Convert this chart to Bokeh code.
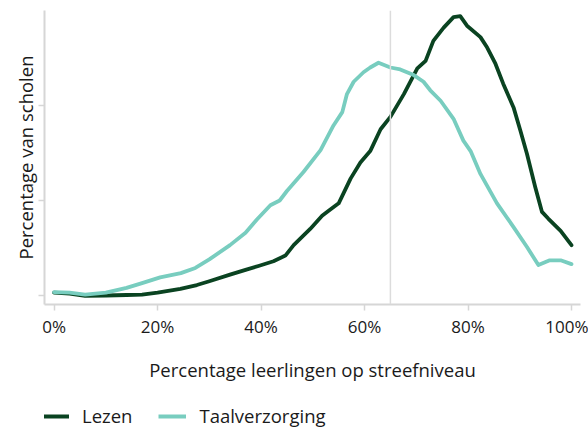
from bokeh.plotting import figure
from bokeh.models import Span, Legend, LegendItem, FixedTicker, Range1d
from bokeh.layouts import column
from bokeh.embed import file_html
from bokeh.resources import INLINE

# ---- data ----
lezen_x = [0, 3, 6, 10, 14, 17, 20, 24.4, 27.6, 30, 34, 37, 39.5, 42.4, 44.7, 46.3,
           49.5, 51.8, 53, 55, 57.3, 59.2, 61.1, 63.1, 65, 67.6, 70.2, 71.8, 73.3,
           75.3, 77.2, 78.5, 79.8, 82.4, 83.7, 85.3, 86.8, 88.8, 90.1, 91.4, 93,
           94.3, 95.5, 97.9, 100]
lezen_y = [0.03, 0.02, -0.005, 0.0, 0.005, 0.01, 0.03, 0.07, 0.11, 0.15, 0.22, 0.27,
           0.31, 0.36, 0.42, 0.53, 0.70, 0.84, 0.89, 0.97, 1.23, 1.40, 1.52, 1.75,
           1.88, 2.12, 2.39, 2.47, 2.68, 2.82, 2.93, 2.94, 2.84, 2.72, 2.61, 2.44,
           2.23, 1.98, 1.74, 1.49, 1.14, 0.88, 0.81, 0.68, 0.53]

taal_x = [0, 3, 6, 10, 14, 17, 20.5, 24.5, 27.3, 30, 34, 37, 39.2, 41.8, 43.6, 45,
          48.2, 51.5, 54, 55.7, 56.6, 57.9, 59.8, 61.1, 62.7, 65, 66.9, 69.5, 71.4,
          72.7, 74.7, 77.2, 79.1, 80.5, 82.4, 85.6, 88.8, 91.4, 93.6, 95.8, 97.9, 100]
taal_y = [0.035, 0.03, 0.01, 0.03, 0.08, 0.13, 0.19, 0.235, 0.29, 0.38, 0.53, 0.66,
          0.80, 0.95, 1.0, 1.1, 1.30, 1.53, 1.79, 1.93, 2.12, 2.25, 2.35, 2.40, 2.45,
          2.40, 2.38, 2.32, 2.25, 2.16, 2.05, 1.86, 1.63, 1.52, 1.28, 0.97, 0.72,
          0.51, 0.32, 0.37, 0.37, 0.33]

x_ticks = [0, 20, 40, 60, 80, 100]
x_tick_labels = ["0%", "20%", "40%", "60%", "80%", "100%"]
y_ticks = [0, 1, 2]
ref_line = 65

series_names = ["Lezen", "Taalverzorging"]
colors = ["#0a4321", "#78cdbf"]

FONT = "Open Sans"
TEXT = "#1a1a1a"
AXIS = "#d6d6d6"

p = figure(width=588, height=386, output_backend="svg", toolbar_location=None,
           x_range=Range1d(-1.855, 101.74), y_range=Range1d(-0.095, 3.0),
           min_border_left=44, min_border_right=8, min_border_top=10,
           min_border_bottom=82)
p.outline_line_color = None
p.grid.visible = False
p.background_fill_color = "white"
p.border_fill_color = "white"

p.add_layout(Span(location=ref_line, dimension="height", line_color="#dcdcdc",
                  line_width=1.5))

r1 = p.line(lezen_x, lezen_y, line_color=colors[0], line_width=3.8,
            line_join="round", line_cap="round")
r2 = p.line(taal_x, taal_y, line_color=colors[1], line_width=3.8,
            line_join="round", line_cap="round")

# x axis
xa = p.xaxis[0]
xa.ticker = FixedTicker(ticks=x_ticks)
xa.major_label_overrides = {t: l for t, l in zip(x_ticks, x_tick_labels)}
xa.axis_line_color = AXIS
xa.axis_line_width = 2
xa.major_tick_line_color = AXIS
xa.major_tick_line_width = 1.5
xa.major_tick_out = 6
xa.major_tick_in = 0
xa.minor_tick_line_color = None
xa.major_label_text_font = FONT
xa.major_label_text_font_size = "17px"
xa.major_label_text_color = TEXT
xa.major_label_standoff = 4
xa.axis_label = "Percentage leerlingen op streefniveau"
xa.axis_label_text_font = FONT
xa.axis_label_text_font_size = "18.5px"
xa.axis_label_text_font_style = "normal"
xa.axis_label_text_color = TEXT
xa.axis_label_standoff = 16

# y axis
ya = p.yaxis[0]
ya.ticker = FixedTicker(ticks=y_ticks)
ya.major_label_overrides = {t: "" for t in y_ticks}
ya.major_label_standoff = 0
ya.axis_line_color = AXIS
ya.axis_line_width = 2
ya.major_tick_line_color = AXIS
ya.major_tick_line_width = 1.5
ya.major_tick_out = 6
ya.major_tick_in = 0
ya.minor_tick_line_color = None
ya.axis_label = "Percentage van scholen"
ya.axis_label_text_font = FONT
ya.axis_label_text_font_size = "18.5px"
ya.axis_label_text_font_style = "normal"
ya.axis_label_text_color = TEXT
ya.axis_label_standoff = 1

# legend strip below the chart (helper lines sit outside its visible range)
lg = figure(width=588, height=42, output_backend="svg", toolbar_location=None,
            x_axis_location=None, y_axis_location=None,
            x_range=Range1d(1000, 1001), y_range=Range1d(1000, 1001),
            min_border_left=0, min_border_right=0, min_border_top=0,
            min_border_bottom=0)
lg.outline_line_color = None
lg.grid.visible = False
lg.background_fill_color = "white"
lg.border_fill_color = "white"
l1 = lg.line(lezen_x, lezen_y, line_color=colors[0], line_width=4)
l2 = lg.line(taal_x, taal_y, line_color=colors[1], line_width=4)

legend = Legend(items=[LegendItem(label=series_names[0], renderers=[l1]),
                       LegendItem(label=series_names[1], renderers=[l2])],
                orientation="horizontal", location=(-3, 0),
                label_text_font=FONT, label_text_font_size="18.5px",
                label_text_color=TEXT, glyph_width=28, label_standoff=13,
                spacing=26, border_line_color=None, background_fill_alpha=0,
                margin=0, padding=0)
lg.add_layout(legend, "center")

layout = column(p, lg, spacing=0)
open("out.html", "w").write(file_html(layout, INLINE))
